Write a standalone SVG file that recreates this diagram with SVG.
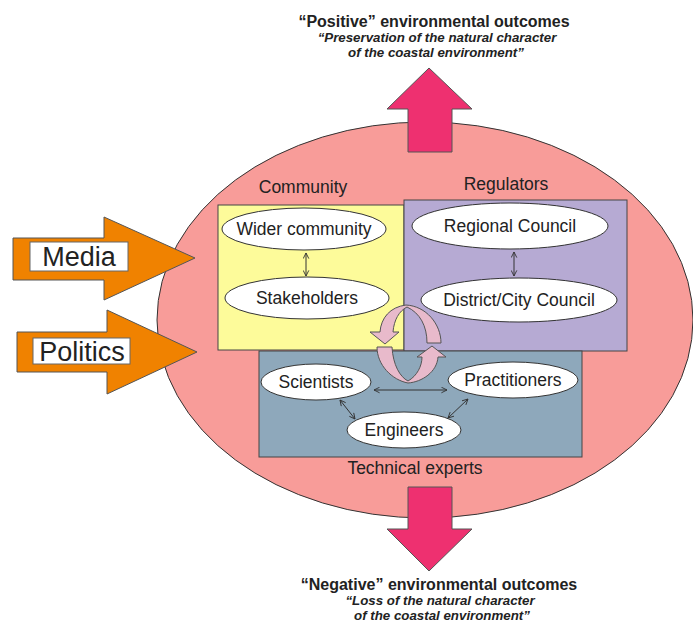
<svg xmlns="http://www.w3.org/2000/svg" width="693" height="623" viewBox="0 0 693 623">
<defs>
<marker id="ah" viewBox="0 0 10 10" refX="9" refY="5" markerWidth="7" markerHeight="7" orient="auto-start-reverse" markerUnits="userSpaceOnUse">
<path d="M1,1 L9,5 L1,9" fill="none" stroke="#333" stroke-width="1.3"/>
</marker>
<style>
.t{font-family:"Liberation Sans",Arial,sans-serif;fill:#222;text-anchor:middle}
.lbl{font-size:17.5px}
.hd{font-size:16px;font-weight:bold}
.sub{font-size:13.3px;font-weight:bold;font-style:italic}
.node{fill:#fff;stroke:#333;stroke-width:1}
.box{stroke:#444;stroke-width:1}
.pink{fill:#EE3070;stroke:#555;stroke-width:1}
.orange{fill:#F08200;stroke:#555;stroke-width:1}
.ring{fill:#E8BACB;stroke:#555;stroke-width:1}
.conn{stroke:#333;stroke-width:1;fill:none;marker-start:url(#ah);marker-end:url(#ah)}
</style>
</defs>
<rect width="693" height="623" fill="#fff"/>
<ellipse id="context" cx="425" cy="320" rx="268" ry="198" fill="#F89C99" stroke="#333" stroke-width="1"/>
<g id="positive">
<polygon class="pink" points="408,152 408,109 387,109 429,68 472,109 452,109 452,152"/>
<text class="t hd" x="434" y="27">“Positive” environmental outcomes</text>
<text class="t sub" x="437" y="42">“Preservation of the natural character</text>
<text class="t sub" x="436" y="57">of the coastal environment”</text>
</g>
<g id="negative">
<polygon class="pink" points="408,487 452,487 452,529 472,529 429,571 387,529 408,529"/>
<text class="t hd" x="439" y="590">“Negative” environmental outcomes</text>
<text class="t sub" x="440" y="605">“Loss of the natural character</text>
<text class="t sub" x="442" y="620">of the coastal environment”</text>
</g>
<g id="media">
<polygon class="orange" points="13,238 104,238 104,217 195,258 104,300 104,280 13,280"/>
<rect x="30" y="242" width="98" height="29" fill="#fff" stroke="#666"/>
<text class="t" x="79" y="266" font-size="27">Media</text>
</g>
<g id="politics">
<polygon class="orange" points="17,332 107,332 107,310 197,352 107,394 107,372 17,372"/>
<rect x="33" y="338" width="97" height="26" fill="#fff" stroke="#666"/>
<text class="t" x="82" y="361" font-size="27">Politics</text>
</g>
<g id="community">
<rect class="box" x="218" y="205" width="186" height="145" fill="#FDFB9A"/>
<text class="t lbl" x="303" y="193">Community</text>
</g>
<g id="regulators">
<rect class="box" x="404" y="200" width="223" height="151" fill="#B6AAD3"/>
<text class="t lbl" x="506" y="190">Regulators</text>
</g>
<g id="technical">
<rect class="box" x="259" y="351" width="323" height="106" fill="#8EA8BB"/>
<text class="t lbl" x="415" y="474">Technical experts</text>
</g>
<g id="cycle">
<path class="ring" d="M427,343 L441,343 C441,324 426,306 406,305 C390,307 381,318 380,332 L370,332 L385,344 L399,332 L393,332 C394,320 399,311 407,307 C420,313 427,326 427,343 Z"/>
<path class="ring" d="M377,347 L392,347 C393,365 400,377 408,381 C417,376 422,366 422,357 L417,357 L432,346 L446,357 L438,357 C437,372 422,382 408,383 C392,380 377,365 377,347 Z"/>
</g>
<g id="wider-community"><ellipse class="node" cx="304" cy="229" rx="82" ry="21"/><text class="t lbl" x="304" y="235">Wider community</text></g>
<g id="stakeholders"><ellipse class="node" cx="307" cy="298" rx="82" ry="21"/><text class="t lbl" x="307" y="304">Stakeholders</text></g>
<g id="regional-council"><ellipse class="node" cx="510" cy="226" rx="98" ry="23"/><text class="t lbl" x="510" y="232">Regional Council</text></g>
<g id="district-council"><ellipse class="node" cx="519" cy="300" rx="98" ry="22"/><text class="t lbl" x="519" y="306">District/City Council</text></g>
<g id="scientists"><ellipse class="node" cx="316" cy="382" rx="55" ry="18"/><text class="t lbl" x="316" y="388">Scientists</text></g>
<g id="practitioners"><ellipse class="node" cx="513" cy="380" rx="65" ry="18"/><text class="t lbl" x="513" y="386">Practitioners</text></g>
<g id="engineers"><ellipse class="node" cx="404" cy="430" rx="57" ry="18"/><text class="t lbl" x="404" y="436">Engineers</text></g>
<g id="connectors">
<line class="conn" x1="306" y1="253" x2="306" y2="276"/>
<line class="conn" x1="514" y1="252" x2="514" y2="276"/>
<line class="conn" x1="374" y1="390" x2="447" y2="390" stroke-width="1.5"/>
<line class="conn" x1="340" y1="400" x2="355" y2="419"/>
<line class="conn" x1="468" y1="399" x2="448" y2="418"/>
</g>
</svg>
